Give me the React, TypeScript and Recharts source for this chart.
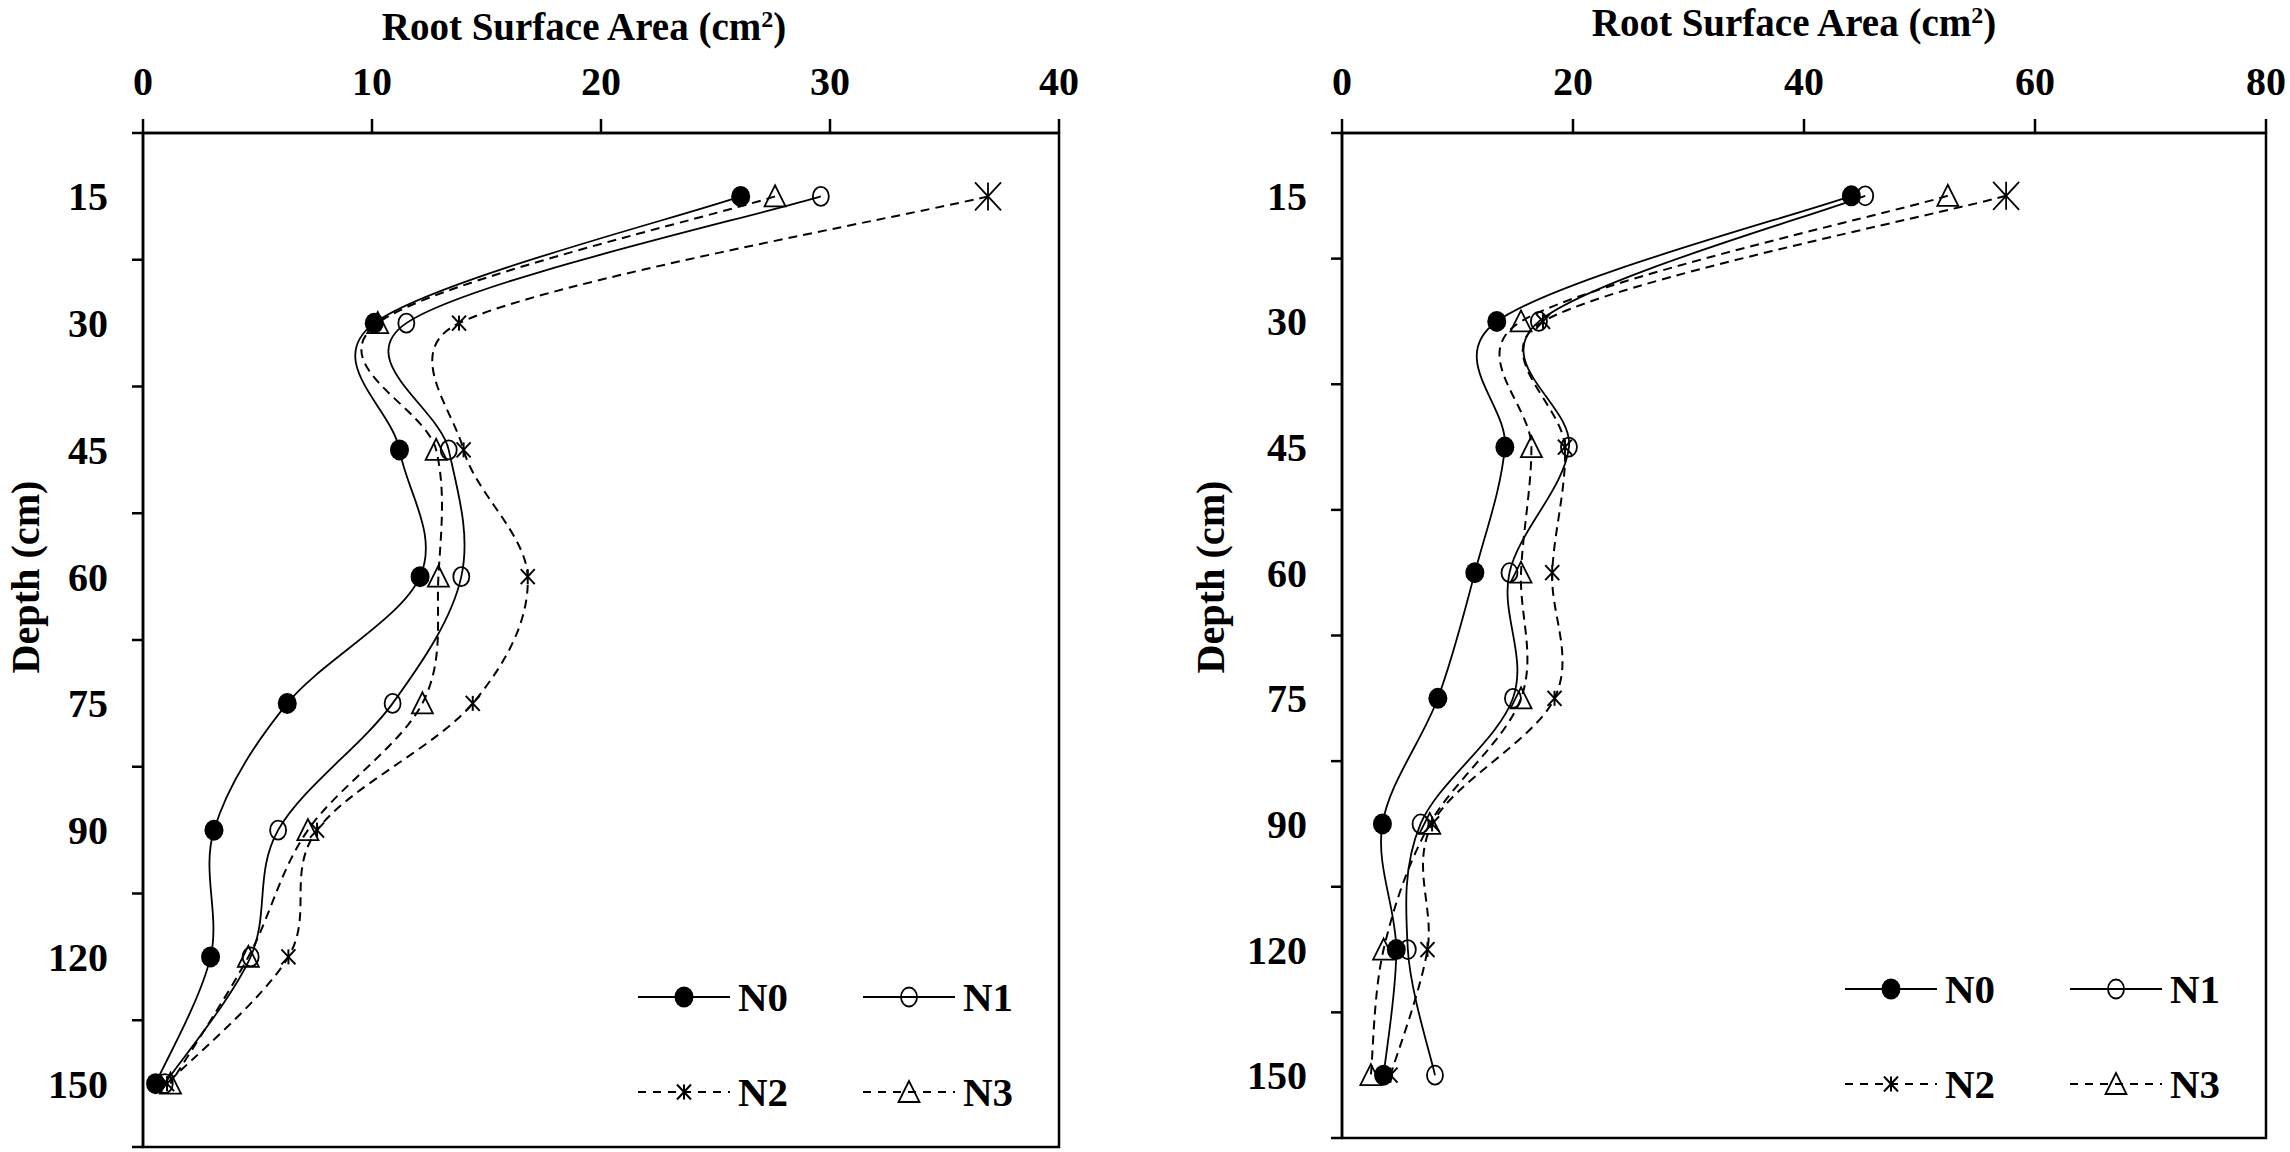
import React from 'react'
import { LineChart, Line, XAxis, YAxis, Legend, ReferenceArea } from 'recharts'

const depths = ['15', '30', '45', '60', '75', '90', '120', '150']
const seriesNames = ['N0', 'N1', 'N2', 'N3']

// left panel (cm2)
const leftN0 = [26.1, 10.1, 11.2, 12.1, 6.3, 3.1, 2.95, 0.55]
const leftN1 = [29.6, 11.5, 13.35, 13.9, 10.9, 5.9, 4.7, 0.95]
const leftN2 = [36.9, 13.8, 14.0, 16.8, 14.4, 7.6, 6.35, 1.05]
const leftN3 = [27.6, 10.25, 12.8, 12.9, 12.2, 7.2, 4.6, 1.2]
const leftTicks = [0, 10, 20, 30, 40]

// right panel (cm2)
const rightN0 = [44.1, 13.4, 14.1, 11.5, 8.3, 3.5, 4.7, 3.6]
const rightN1 = [45.3, 17.05, 19.65, 14.5, 14.8, 6.8, 5.7, 8.05]
const rightN2 = [57.5, 17.4, 19.3, 18.2, 18.4, 7.8, 7.4, 4.2]
const rightN3 = [52.45, 15.5, 16.4, 15.5, 15.5, 7.6, 3.6, 2.5]
const rightTicks = [0, 20, 40, 60, 80]

const FONT = '"Liberation Serif", "Times New Roman", serif'
const TICK_SIZE = 11
const TICK_MARGIN = 24

// depth rows sit in the middle of each band, tick marks on band edges
const bandTicks = Array.from({ length: depths.length * 2 + 1 }, (_, i) => i / 2)

const buildRows = (n0: number[], n1: number[], n2: number[], n3: number[]) =>
  depths.map((d, i) => ({ depth: d, pos: i + 0.5, N0: n0[i], N1: n1[i], N2: n2[i], N3: n3[i] }))

const dist = (a: number[], b: number[]) => Math.hypot(b[0] - a[0], b[1] - a[1])

// control point offset like excel: catmull-rom (1/6) but never longer than half the segment
function ctrlOffset(from: number[], to: number[], segLen: number) {
  const d = dist(from, to)
  if (!d) return [0, 0]
  const len = Math.min(d / 6, segLen / 2)
  return [((to[0] - from[0]) / d) * len, ((to[1] - from[1]) / d) * len]
}

// excel style smoothed line
function excelSmooth(context: any) {
  let pts: number[][] = []
  return {
    areaStart() {},
    areaEnd() {},
    lineStart() { pts = [] },
    point(x: number, y: number) { pts.push([+x, +y]) },
    lineEnd() {
      const n = pts.length
      if (!n) return
      context.moveTo(pts[0][0], pts[0][1])
      for (let i = 0; i < n - 1; i++) {
        const p0 = pts[i - 1] || pts[i]
        const p1 = pts[i]
        const p2 = pts[i + 1]
        const p3 = pts[i + 2] || p2
        const seg = dist(p1, p2)
        const a = ctrlOffset(p0, p2, seg)
        const b = ctrlOffset(p1, p3, seg)
        context.bezierCurveTo(p1[0] + a[0], p1[1] + a[1], p2[0] - b[0], p2[1] - b[1], p2[0], p2[1])
      }
    }
  }
}

function Marker({ kind, cx, cy, big }: any) {
  if (cx == null || cy == null) return null
  if (kind === 'N0') return <ellipse cx={cx} cy={cy} rx={9.5} ry={10.5} fill="#000" />
  if (kind === 'N1') return <ellipse cx={cx} cy={cy} rx={8} ry={9.5} fill="none" stroke="#000" strokeWidth={1.8} />
  if (kind === 'N2') {
    const s = big ? 14 : 7.5
    const w = big ? 13 : 7
    return (
      <g stroke="#000" strokeWidth={big ? 1.8 : 2}>
        <line x1={cx - w} y1={cy - s} x2={cx + w} y2={cy + s} />
        <line x1={cx + w} y1={cy - s} x2={cx - w} y2={cy + s} />
        <line x1={cx} y1={cy - s} x2={cx} y2={cy + s} />
      </g>
    )
  }
  return (
    <polygon
      points={`${cx},${cy - 11} ${cx - 10.5},${cy + 10} ${cx + 10.5},${cy + 10}`}
      fill="none" stroke="#000" strokeWidth={1.8}
    />
  )
}

function DepthTick(props: any) {
  const { x, y, payload } = props
  const v = payload.value
  if (Number.isInteger(v)) {
    return <line x1={x + TICK_MARGIN} x2={x + TICK_MARGIN + TICK_SIZE} y1={y} y2={y} stroke="#000" strokeWidth={2.5} />
  }
  return (
    <text x={x} y={y + 14} textAnchor="end" fontFamily={FONT} fontSize={40} fontWeight="bold" fill="#000">
      {depths[Math.floor(v)]}
    </text>
  )
}

function LegendBox() {
  return (
    <svg width={430} height={170} style={{ overflow: 'visible' }}>
      {seriesNames.map((s, i) => {
        const x0 = (i % 2) * 225
        const y = 37 + Math.floor(i / 2) * 95
        const dashed = s === 'N2' || s === 'N3'
        return (
          <g key={s}>
            <line x1={x0} x2={x0 + 92} y1={y} y2={y} stroke="#000" strokeWidth={2} strokeDasharray={dashed ? '8 7' : undefined} />
            <Marker kind={s} cx={x0 + 46} cy={y} />
            <text x={x0 + 100} y={y + 14} fontFamily={FONT} fontSize={41} fontWeight="bold" fill="#000">{s}</text>
          </g>
        )
      })}
    </svg>
  )
}

const lineStyle: Record<string, any> = {
  N0: { strokeWidth: 1.8 },
  N1: { strokeWidth: 1.8 },
  N2: { strokeWidth: 2, strokeDasharray: '9 6' },
  N3: { strokeWidth: 2, strokeDasharray: '9 6' }
}

function Panel({ rows, xTicks, left, width, margin, yAxisWidth, titleDx, titleY, yTitleX, legendPos }: any) {
  const xMax = xTicks[xTicks.length - 1]
  return (
    <div style={{ position: 'absolute', left, top: 0 }}>
      <LineChart width={width} height={1152} data={rows} layout="vertical" margin={margin}>
        <XAxis
          type="number"
          orientation="top"
          domain={[0, xMax]}
          ticks={xTicks}
          interval={0}
          height={133}
          stroke="#000"
          axisLine={{ stroke: '#000', strokeWidth: 2.5 }}
          tickLine={{ stroke: '#000', strokeWidth: 2.5 }}
          tickSize={14}
          tickMargin={24}
          tick={{ fontSize: 40, fontFamily: FONT, fontWeight: 'bold', fill: '#000' }}
          label={(p: any) => {
            const vb = p.viewBox
            return (
              <text x={vb.x + vb.width / 2 + titleDx} y={titleY} textAnchor="middle" fontFamily={FONT} fontSize={39} fontWeight="bold" fill="#000">
                Root Surface Area (cm<tspan dy={-13} fontSize={24}>2</tspan><tspan dy={13}>)</tspan>
              </text>
            )
          }}
        />
        <YAxis
          type="number"
          dataKey="pos"
          domain={[0, depths.length]}
          ticks={bandTicks}
          interval={0}
          width={yAxisWidth}
          stroke="#000"
          axisLine={{ stroke: '#000', strokeWidth: 2.5 }}
          tickLine={false}
          tickSize={TICK_SIZE}
          tickMargin={TICK_MARGIN}
          tick={(p: any) => <DepthTick {...p} />}
          label={() => (
            <text
              transform={`translate(${yTitleX}, 577) rotate(-90)`}
              textAnchor="middle"
              dominantBaseline="central"
              fontFamily={FONT}
              fontSize={40}
              fontWeight="bold"
              fill="#000"
              textLength={193}
              lengthAdjust="spacingAndGlyphs"
            >
              Depth (cm)
            </text>
          )}
        />
        <ReferenceArea x1={0} x2={xMax} y1={0} y2={depths.length} fill="none" fillOpacity={0} stroke="#000" strokeWidth={2.5} />
        {seriesNames.map(s => (
          <Line
            key={s}
            dataKey={s}
            type={excelSmooth as any}
            stroke="#000"
            {...lineStyle[s]}
            dot={(p: any) => <Marker key={`${s}-${p.index}`} kind={s} cx={p.cx} cy={p.cy} big={s === 'N2' && p.index === 0} />}
            activeDot={false}
            isAnimationActive={false}
          />
        ))}
        <Legend
          layout="vertical"
          align="center"
          verticalAlign="middle"
          wrapperStyle={{ left: legendPos.left, top: legendPos.top, width: 430, height: 170 }}
          content={() => <LegendBox />}
        />
      </LineChart>
    </div>
  )
}

export default function App() {
  const leftRows = buildRows(leftN0, leftN1, leftN2, leftN3)
  const rightRows = buildRows(rightN0, rightN1, rightN2, rightN3)
  return (
    <div style={{ position: 'absolute', left: 0, top: 0, width: 2290, height: 1152, background: '#fff', overflow: 'hidden' }}>
      <Panel
        rows={leftRows}
        xTicks={leftTicks}
        left={0}
        width={1100}
        margin={{ top: 0, right: 41, bottom: 5, left: 0 }}
        yAxisWidth={143}
        titleDx={-17}
        titleY={40}
        yTitleX={25}
        legendPos={{ left: 638, top: 960 }}
      />
      <Panel
        rows={rightRows}
        xTicks={rightTicks}
        left={1150}
        width={1140}
        margin={{ top: 0, right: 24, bottom: 14, left: 0 }}
        yAxisWidth={192}
        titleDx={-10}
        titleY={36}
        yTitleX={60}
        legendPos={{ left: 695, top: 952 }}
      />
    </div>
  )
}
